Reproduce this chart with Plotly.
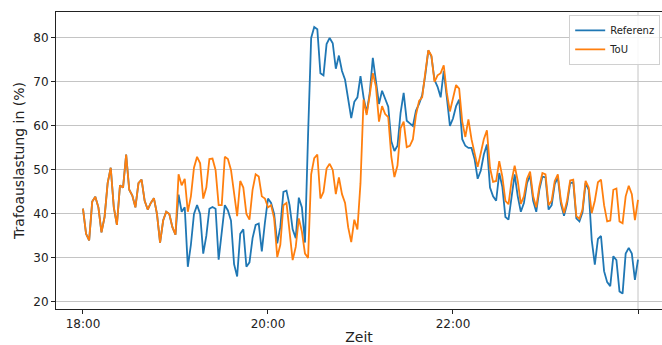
import pandas as pd
import plotly.graph_objects as go

# Transformer loading (%) sampled every 2 minutes from 18:00 to 24:00
start = "2023-01-01 18:00"
step = "2min"

tou = [
    41.2, 35.5, 34.0, 42.8, 43.9, 41.5, 35.8, 39.3, 47.0, 50.5,
    41.5, 37.5, 46.5, 46.0, 53.5, 45.5, 44.2, 41.5, 47.0, 47.8,
    43.0, 41.0, 42.5, 43.6, 40.0, 33.5, 38.5, 40.5, 40.0, 37.0,
    35.3, 49.0, 46.5, 48.0, 40.5, 44.0, 50.5, 53.0, 51.5, 43.5,
    46.0, 52.5, 52.6, 50.0, 42.0, 42.0, 53.0, 52.5, 50.0, 44.5,
    39.5, 47.5, 46.0, 40.0, 38.7, 45.5, 49.0, 48.5, 44.0, 43.5,
    41.5, 42.0, 39.0, 30.2, 33.0, 42.0, 42.5, 36.0, 29.5, 32.5,
    39.0, 36.0, 31.0, 30.0, 49.0, 52.7, 53.5, 43.5, 45.0, 50.3,
    51.4, 50.0, 44.5, 48.3, 44.5, 42.5, 37.0, 33.6, 38.7, 36.5,
    47.0, 66.0, 62.5, 67.0, 72.0, 69.0, 61.0, 64.5, 62.7, 62.0,
    53.0, 48.4, 51.0, 59.5, 61.0, 55.2, 55.5, 57.0, 62.5, 65.7,
    66.5, 72.0, 77.2, 76.0, 70.0, 71.5, 72.0, 73.8, 67.5, 63.3,
    66.0, 69.3, 68.5, 61.0, 57.5, 61.5, 57.0, 54.0, 50.7, 53.8,
    57.0, 59.0, 50.5, 47.3, 47.5, 52.0, 48.5, 43.0, 42.2, 47.5,
    51.0, 47.5, 42.3, 44.0, 48.0, 49.6, 44.0, 41.5, 46.2, 49.3,
    49.0, 42.0, 43.0, 47.5, 49.0, 43.0, 40.2, 43.0, 47.6, 47.8,
    39.5, 38.9, 41.0, 47.5, 46.0, 40.2, 43.0, 47.2, 47.8, 42.0,
    38.3, 38.5, 45.5, 45.8, 38.3, 37.9, 44.0, 46.4, 44.5, 38.6,
    43.2,
]

referenz = [
    41.2, 35.5, 34.0, 42.8, 43.9, 41.5, 35.8, 39.3, 47.0, 50.5,
    41.5, 37.5, 46.5, 46.0, 53.5, 45.5, 44.2, 41.5, 47.0, 47.8,
    43.0, 41.0, 42.5, 43.6, 40.0, 33.5, 38.5, 40.5, 40.0, 37.0,
    35.3, 44.4, 40.5, 41.5, 28.0, 33.0, 40.0, 42.0, 40.0, 31.0,
    35.0, 41.2, 41.6, 41.2, 29.6, 36.0, 42.0, 40.8, 38.5, 28.6,
    25.8, 35.5, 36.5, 28.0, 29.0, 34.5, 37.5, 37.8, 31.5, 38.0,
    43.5, 42.5, 40.0, 33.3, 37.0, 45.0, 45.3, 42.0, 36.5, 34.5,
    43.7, 41.5, 33.5, 58.0, 80.0, 82.5, 82.0, 72.0, 71.5, 78.6,
    80.0, 78.8, 73.0, 76.0, 72.5, 70.5, 66.5, 61.8, 65.5, 66.5,
    71.3, 66.5, 63.0, 67.5, 75.5, 70.5, 65.0, 68.0, 66.2, 64.4,
    56.5, 54.3, 55.5, 63.0, 67.5, 61.2, 60.6, 60.0, 63.5, 65.0,
    67.0, 71.5, 77.2, 75.8, 70.5, 68.9, 66.5, 72.5, 66.5, 60.0,
    61.7, 64.5, 66.0, 57.0, 55.5, 55.0, 55.0, 52.5, 48.0, 49.8,
    53.5, 55.8, 46.0, 44.0, 43.0, 49.3, 46.2, 39.3, 38.7, 43.5,
    49.0, 44.0, 40.5, 42.5, 47.0, 48.8, 43.0, 40.5, 45.5, 48.5,
    48.3, 41.0, 42.0, 46.8, 48.3, 42.3, 39.6, 42.3, 47.0, 47.2,
    39.0, 38.3, 40.4, 47.0, 45.5, 34.0, 28.5, 34.3, 35.0, 27.0,
    24.5, 23.6, 30.4, 29.5, 22.4, 21.9, 31.0, 32.3, 31.0, 25.0,
    29.6,
]

tick_vals = ["2023-01-01 18:00", "2023-01-01 20:00", "2023-01-01 22:00", "2023-01-02 00:00"]
tick_text = ["18:00", "20:00", "22:00", ""]
midnight = "2023-01-02 00:00"
x_range = ["2023-01-01 17:42:30", "2023-01-02 00:15:34"]
y_range = [18.4, 85.9]

times = pd.date_range(start, periods=len(tou), freq=step)

fig = go.Figure()
fig.add_trace(go.Scatter(x=times, y=referenz, mode="lines", name="Referenz",
                         line=dict(color="#1f77b4", width=1.8)))
fig.add_trace(go.Scatter(x=times, y=tou, mode="lines", name="ToU",
                         line=dict(color="#ff7f0e", width=1.8)))

# vertical marker at midnight
fig.add_shape(type="line", xref="x", yref="paper", x0=midnight, x1=midnight,
              y0=0, y1=1, line=dict(color="#c4c4c4", width=1), layer="below")

fig.update_layout(
    width=662, height=345,
    margin=dict(l=56, r=0, t=12, b=36),
    paper_bgcolor="white", plot_bgcolor="white",
    font=dict(family="DejaVu Sans", size=12, color="#222"),
    showlegend=True,
    legend=dict(x=0.997, y=0.99, xanchor="right", yanchor="top",
                bgcolor="rgba(255,255,255,0.85)", bordercolor="#d0d0d0",
                borderwidth=1, font=dict(size=10, color="#222"),
                tracegroupgap=0, itemwidth=30),
)

fig.update_xaxes(
    type="date", range=x_range, tickvals=tick_vals, ticktext=tick_text,
    showgrid=False, zeroline=False,
    showline=True, mirror=True, linecolor="#222", linewidth=1,
    ticks="outside", ticklen=4, tickcolor="#222",
    tickfont=dict(size=12),
    title=dict(text="Zeit", font=dict(size=14, color="#222"), standoff=3),
    automargin=False,
)
fig.update_yaxes(
    range=y_range, tickvals=[20, 30, 40, 50, 60, 70, 80],
    showgrid=True, gridcolor="#c4c4c4", gridwidth=1, zeroline=False,
    showline=True, mirror=False, linecolor="#222", linewidth=1,
    ticks="outside", ticklen=4, tickcolor="#222",
    tickfont=dict(size=12),
    title=dict(text="Trafoauslastung in (%)", font=dict(size=14, color="#222"), standoff=5),
    automargin=False,
)

fig.write_html("out.html")
